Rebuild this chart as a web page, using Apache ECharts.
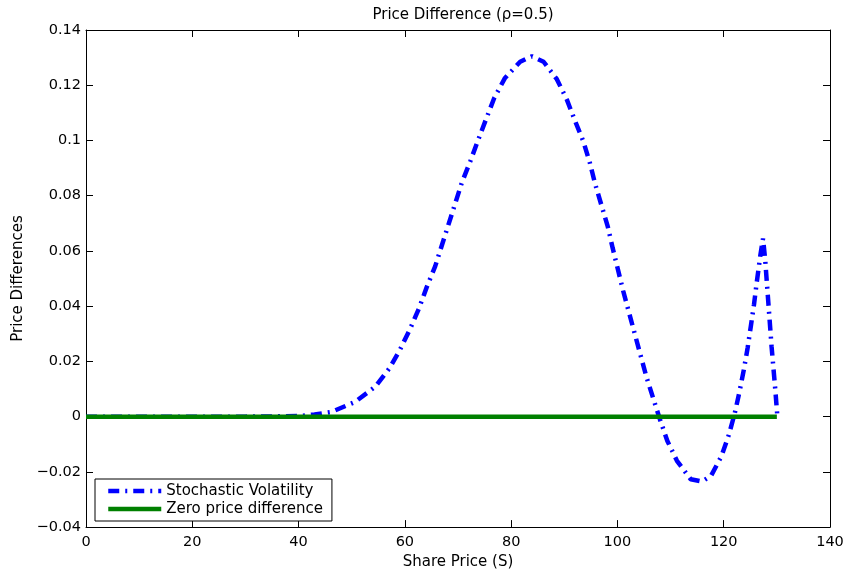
<!DOCTYPE html>
<html>
<head>
<meta charset="utf-8">
<script src="https://cdn.jsdelivr.net/npm/echarts@6/dist/echarts.min.js"></script>
<style>
  html, body { margin: 0; padding: 0; background: #fff; }
  #chart { width: 848px; height: 575px; }
</style>
</head>
<body>
<div id="chart"></div>
<script>
// share price (S) / price difference pairs
const stochasticVol = [
  [0, 0], [10, 0], [20, 0], [30, 0], [36, 0.0001], [40.6, 0.0003], [43, 0.0008],
  [46.2, 0.0017], [50.6, 0.0053], [54.4, 0.0108], [57.1, 0.0175], [59.1, 0.0243],
  [61, 0.0318], [62.7, 0.0394], [64.1, 0.0468], [65.7, 0.0544], [70.7, 0.0846],
  [72.3, 0.0924], [73.8, 0.1002], [75.3, 0.1078], [76.8, 0.1153], [78.8, 0.1225],
  [81.7, 0.1285], [83.9, 0.1305], [86.1, 0.1285], [88.6, 0.1222], [90.5, 0.1147],
  [92, 0.1072], [93.6, 0.0996], [94.8, 0.092], [95.8, 0.0843], [97, 0.0765],
  [98.2, 0.0687], [99.1, 0.0611], [101.1, 0.0454], [103.3, 0.0297], [105.5, 0.0141],
  [108, -0.001], [109.4, -0.0088], [111.2, -0.016], [113.8, -0.0227], [115.9, -0.0235],
  [117.6, -0.0215], [119.6, -0.0142], [121, -0.0064], [122.1, 0.0014], [123, 0.0093],
  [123.8, 0.0171], [124.5, 0.0249], [125.1, 0.0327], [125.7, 0.0406], [126.2, 0.0484],
  [126.9, 0.0585], [127.4, 0.0645], [127.8, 0.0569], [128.4, 0.0412], [129, 0.0255],
  [129.7, 0.0099], [130.1, 0]
];
const zeroDiff = [[0, 0], [130, 0]];
const xTicks = { min: 0, max: 140, interval: 20 };
const yTicks = { min: -0.04, max: 0.14, interval: 0.02 };

const FONT = "DejaVu Sans";
const chart = echarts.init(document.getElementById("chart"));

const axisCommon = {
  axisLine: { show: true, onZero: false, lineStyle: { color: "#000", width: 1 } },
  axisTick: { show: true, inside: true, length: 7, lineStyle: { color: "#000" } },
  splitLine: { show: false },
};

chart.setOption({
  backgroundColor: "#fff",
  animation: false,
  title: {
    text: "Price Difference (\u03c1=0.5)",
    left: 458,
    top: 3,
    textAlign: "center",
    textStyle: { fontFamily: FONT, fontSize: 15, fontWeight: "normal", color: "#000" },
  },
  legend: {
    orient: "vertical",
    left: 95,
    top: 479,
    itemWidth: 53,
    itemHeight: 16,
    itemGap: 2,
    padding: [4, 9, 4, 11],
    borderColor: "#000",
    borderWidth: 1,
    backgroundColor: "#fff",
    itemStyle: { opacity: 0 },
    lineStyle: { width: 4.5 },
    textStyle: { fontFamily: FONT, fontSize: 15, color: "#000", lineHeight: 16 },
    data: ["Stochastic Volatility", "Zero price difference"],
  },
  grid: { left: 86, right: 18, top: 30, bottom: 47 },
  xAxis: [
    {
      type: "value",
      ...xTicks,
      ...axisCommon,
      name: "Share Price (S)",
      nameLocation: "middle",
      nameGap: 24,
      nameTextStyle: { fontFamily: FONT, fontSize: 15, color: "#000" },
      axisLabel: { fontFamily: FONT, fontSize: 14.5, color: "#000", margin: 8 },
    },
    {
      type: "value",
      position: "top",
      ...xTicks,
      ...axisCommon,
      axisLabel: { show: false },
    },
  ],
  yAxis: [
    {
      type: "value",
      ...yTicks,
      ...axisCommon,
      name: "Price Differences",
      nameLocation: "middle",
      nameGap: 60,
      nameTextStyle: { fontFamily: FONT, fontSize: 15, color: "#000" },
      axisLabel: {
        fontFamily: FONT,
        fontSize: 14.5,
        color: "#000",
        margin: 5,
        formatter(val) {
          const v = parseFloat(val.toFixed(2));
          return v < 0 ? "\u2212" + Math.abs(v) : String(v);
        },
      },
    },
    {
      type: "value",
      position: "right",
      ...yTicks,
      ...axisCommon,
      axisLabel: { show: false },
    },
  ],
  series: [
    {
      name: "Stochastic Volatility",
      type: "line",
      data: stochasticVol,
      showSymbol: false,
      symbol: "none",
      color: "#0000ff",
      lineStyle: { color: "#0000ff", width: 4.5, type: [11, 6, 2, 6], cap: "butt" },
      z: 2,
    },
    {
      name: "Zero price difference",
      type: "line",
      data: zeroDiff,
      showSymbol: false,
      symbol: "none",
      color: "#008000",
      lineStyle: { color: "#008000", width: 4.5 },
      z: 3,
    },
  ],
});
</script>
</body>
</html>
